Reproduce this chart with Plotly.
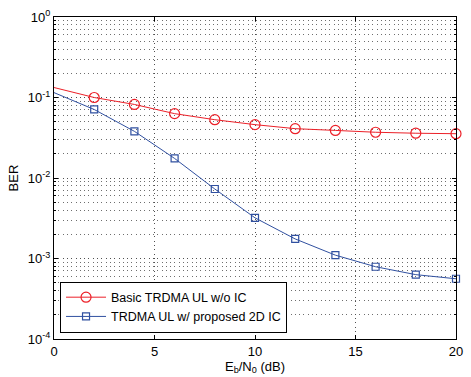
import plotly.graph_objects as go

ebn0 = [0, 2, 4, 6, 8, 10, 12, 14, 16, 18, 20]
ber_basic = [0.133, 0.100, 0.082, 0.063, 0.053, 0.046, 0.041, 0.039, 0.037, 0.036, 0.0355]
ber_2dic = [0.115, 0.071, 0.038, 0.0175, 0.0073, 0.0032, 0.00175, 0.0011, 0.00079, 0.00063, 0.00056]
name_basic = "Basic TRDMA UL w/o IC"
name_2dic = "TRDMA UL w/ proposed 2D IC"
x_ticks = [0, 5, 10, 15, 20]
y_exps = [-4, -3, -2, -1, 0]

RED = "rgb(236,32,40)"
BLUE = "rgb(48,80,160)"
DOTS = "1px,3.3px"

fig = go.Figure()
for y, name, col, sym, sz in [(ber_basic, name_basic, RED, "circle-open", 10),
                               (ber_2dic, name_2dic, BLUE, "square-open", 7)]:
    fig.add_trace(go.Scatter(x=ebn0[:2], y=y[:2], mode="lines", showlegend=False,
                             line=dict(color=col, width=1), hoverinfo="skip"))
    fig.add_trace(go.Scatter(x=ebn0[1:], y=y[1:], mode="lines+markers", name=name,
                             line=dict(color=col, width=1),
                             marker=dict(symbol=sym, size=sz, color=col, line=dict(width=1.2, color=col)),
                             cliponaxis=False))

minor_vals = [m * 10 ** e for e in y_exps[:-1] for m in range(2, 10)]

fig.update_layout(
    width=471, height=377,
    margin=dict(l=54, r=8, t=17, b=36),
    paper_bgcolor="white", plot_bgcolor="white",
    font=dict(family="Liberation Sans, Arial, sans-serif", size=12, color="black"),
    legend=dict(x=0.015, y=0.02, xanchor="left", yanchor="bottom",
                bgcolor="white", bordercolor="black", borderwidth=1,
                font=dict(size=12.5), tracegroupgap=0, itemwidth=40),
    showlegend=True,
)
fig.update_xaxes(
    range=[0, 20], tickvals=x_ticks, ticktext=[str(v) for v in x_ticks],
    ticks="inside", ticklen=4, tickcolor="black", showline=True, linecolor="black",
    linewidth=1, mirror="ticks", showgrid=True, gridcolor="rgb(80,80,80)", griddash=DOTS,
    gridwidth=1, zeroline=False, tickfont=dict(size=13),
    title=dict(text="E<sub>b</sub>/N<sub>0</sub> (dB)", standoff=1, font=dict(size=13)),
)
fig.update_yaxes(
    type="log", range=[-4, 0],
    tickvals=[10 ** e for e in y_exps], ticktext=[f"10<sup>{e}</sup>" for e in y_exps],
    ticks="inside", ticklen=4, tickcolor="black", showline=True, linecolor="black",
    linewidth=1, mirror="ticks", showgrid=True, gridcolor="rgb(80,80,80)", griddash=DOTS,
    gridwidth=1, zeroline=False, tickfont=dict(size=13),
    minor=dict(tickvals=minor_vals, showgrid=True, gridcolor="rgb(110,110,110)", griddash=DOTS,
               ticks="inside", ticklen=2, tickcolor="black"),
    title=dict(text="BER", standoff=6, font=dict(size=13)),
)
fig.write_html("out.html", config={"displayModeBar": False},
               post_script="document.body.style.margin='0';")
